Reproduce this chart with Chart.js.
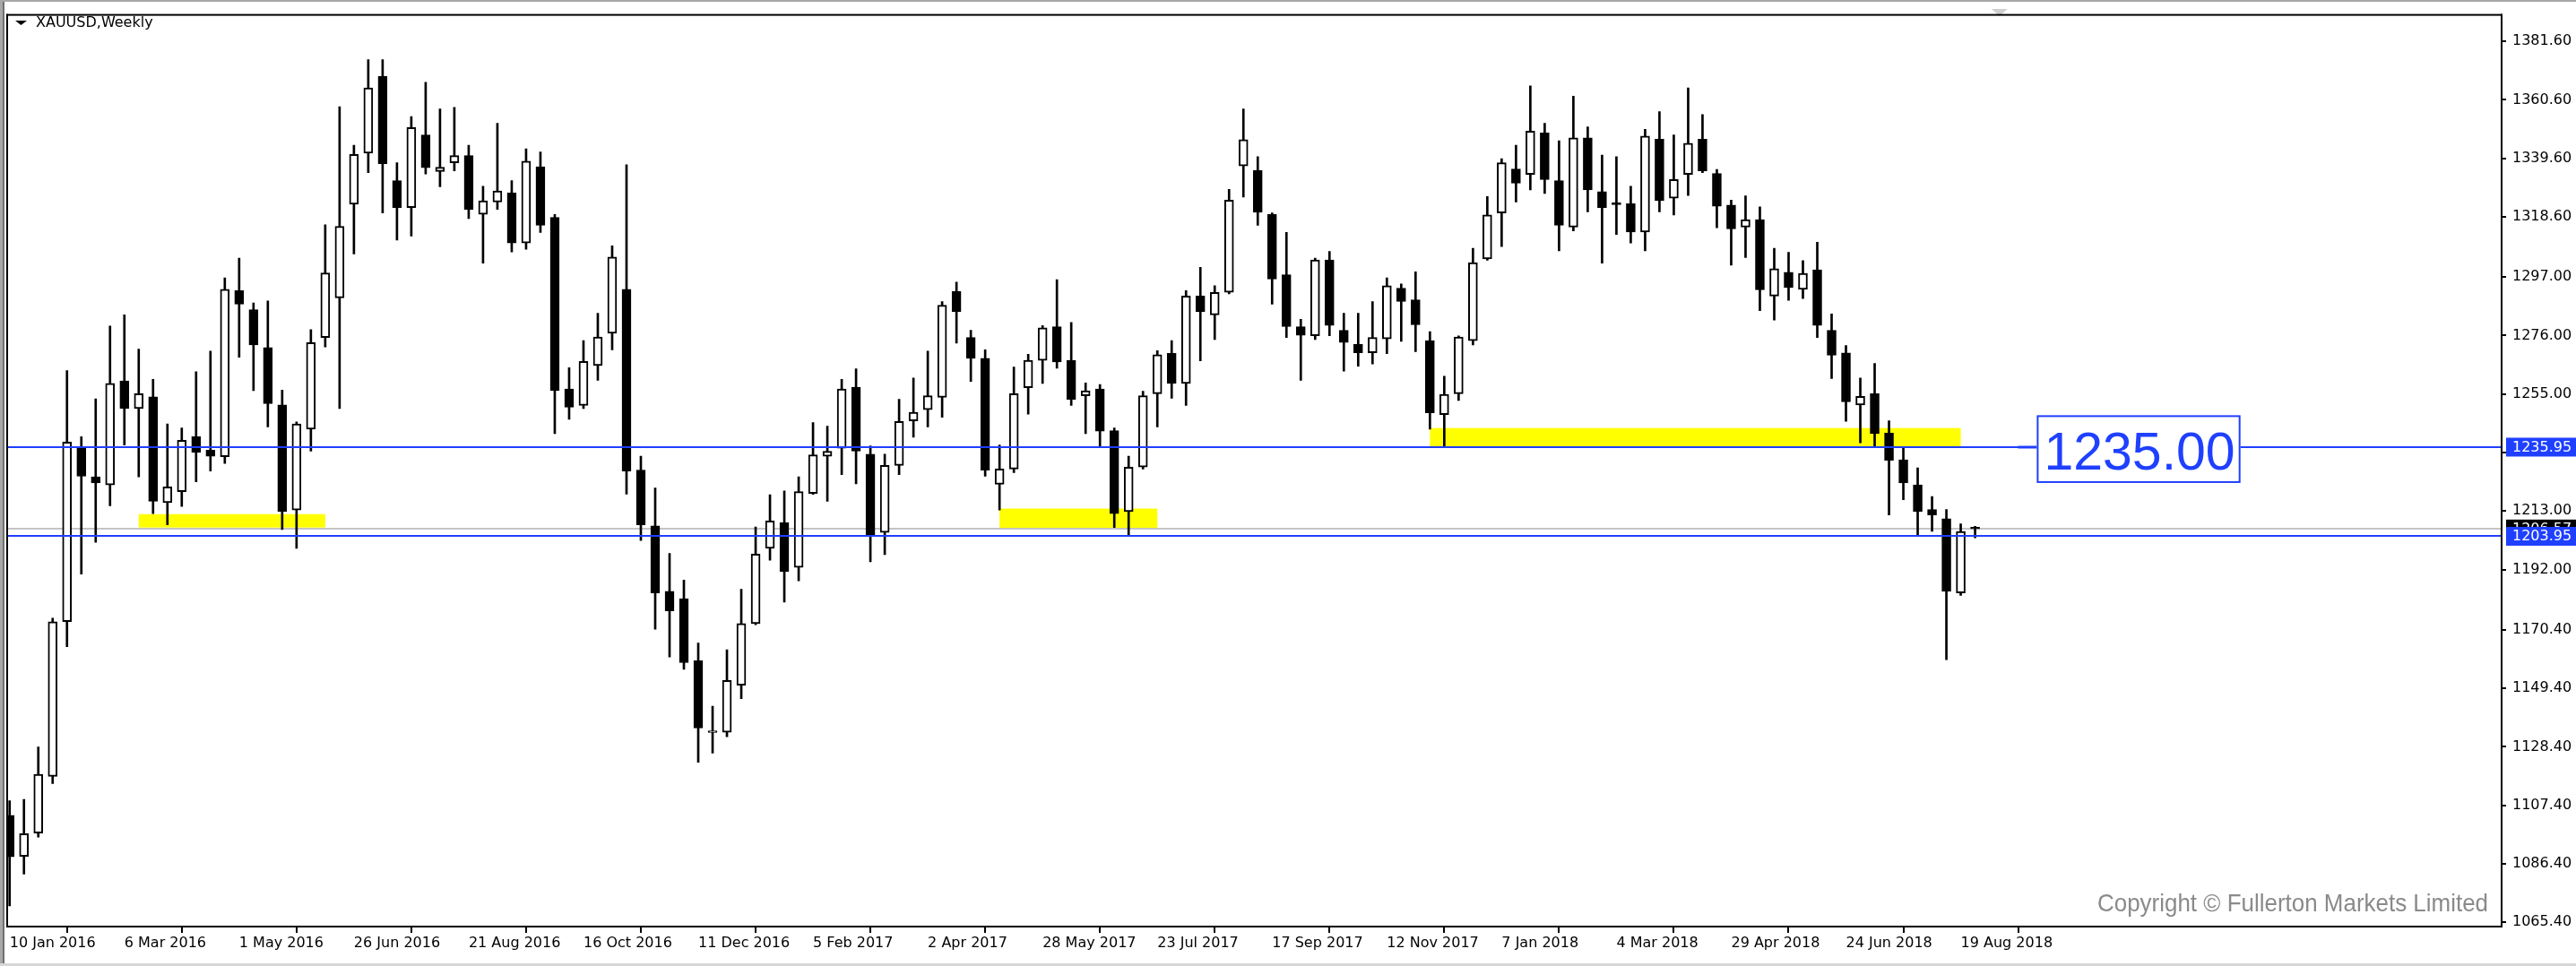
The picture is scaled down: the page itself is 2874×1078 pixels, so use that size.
<!DOCTYPE html>
<html>
<head>
<meta charset="utf-8">
<title>XAUUSD Weekly</title>
<script src="https://cdn.jsdelivr.net/npm/chart.js@4.4.1/dist/chart.umd.min.js"></script>
<style>
  html, body { margin: 0; padding: 0; background: #fff; overflow: hidden; }
  canvas { display: block; }
</style>
</head>
<body>
<canvas id="xauChart" width="2874" height="1078" style="width:2874px;height:1078px"></canvas>
<script>
// ============================================
// DATA (weekly candles, 10 Jan 2016 .. 26 Aug 2018)
// ============================================
const opens = [1103.8,1089.1,1097.4,1117.8,1173.3,1235.8,1225.3,1222.4,1259.7,1249.8,
  1254.0,1216.0,1220.0,1239.7,1234.9,1232.5,1292.1,1285.3,1271.7,1251.1,
  1213.4,1242.4,1275.3,1289.5,1323.1,1341.5,1369.1,1331.6,1321.9,1348.0,
  1334.9,1338.0,1340.6,1319.5,1323.9,1327.2,1309.2,1336.6,1318.4,1256.8,
  1250.9,1265.2,1276.8,1292.6,1227.7,1207.7,1184.2,1181.6,1159.3,1133.5,
  1133.6,1150.5,1172.6,1199.6,1208.8,1192.8,1219.3,1232.7,1235.6,1257.5,
  1233.4,1205.3,1229.4,1245.4,1249.4,1253.8,1291.9,1275.3,1267.8,1222.6,
  1228.1,1257.3,1267.1,1279.2,1267.1,1254.4,1256.8,1241.9,1212.8,1228.8,
  1255.1,1269.6,1258.8,1290.2,1283.4,1291.5,1336.9,1335.3,1319.5,1297.8,
  1279.2,1275.9,1303.1,1277.9,1272.8,1269.8,1274.8,1293.0,1288.8,1274.2,
  1247.6,1255.1,1274.2,1303.5,1320.0,1335.8,1333.8,1348.7,1331.6,1314.9,
  1347.0,1327.7,1323.3,1323.3,1313.2,1346.5,1325.3,1333.8,1346.5,1334.2,
  1322.8,1314.9,1317.6,1290.2,1298.7,1292.6,1299.6,1277.9,1269.8,1251.1,
  1255.1,1241.0,1231.4,1222.4,1213.6,1210.3,1183.6,1207.1];

const highs = [1109.0,1109.5,1128.3,1174.6,1263.4,1239.7,1253.3,1279.4,1283.4,1271.1,
  1260.3,1244.3,1242.8,1263.0,1270.4,1296.7,1303.8,1287.7,1288.4,1256.4,
  1245.0,1278.1,1315.8,1358.1,1344.3,1375.0,1375.0,1338.0,1354.6,1366.9,
  1357.3,1357.9,1344.3,1329.6,1352.2,1331.6,1343.0,1341.9,1319.5,1264.5,
  1274.2,1284.0,1308.2,1337.3,1232.7,1221.3,1197.8,1188.2,1165.6,1143.0,
  1163.2,1184.9,1207.3,1218.9,1220.2,1225.3,1244.8,1243.5,1260.3,1264.1,
  1236.4,1233.4,1253.1,1260.8,1270.4,1288.2,1295.2,1277.9,1270.9,1236.7,
  1264.7,1269.3,1279.6,1296.1,1280.7,1259.0,1258.4,1242.8,1232.7,1256.0,
  1270.6,1274.2,1292.1,1300.5,1293.9,1328.5,1357.3,1340.2,1320.0,1313.0,
  1281.8,1303.8,1306.2,1284.0,1284.0,1288.2,1296.7,1294.5,1298.9,1277.4,
  1261.4,1275.9,1307.3,1325.9,1339.5,1344.3,1365.6,1352.2,1345.9,1361.9,
  1350.9,1340.8,1340.2,1329.6,1350.0,1356.4,1348.0,1364.9,1355.3,1335.6,
  1324.6,1326.1,1322.2,1307.3,1305.9,1302.9,1309.5,1283.8,1272.4,1260.8,
  1266.0,1245.4,1235.8,1228.5,1218.2,1213.6,1208.4,1207.5];

const lows = [1071.3,1082.7,1096.0,1115.2,1164.3,1190.4,1201.8,1214.9,1236.7,1225.3,
  1212.1,1208.1,1214.7,1223.5,1227.4,1230.1,1268.2,1256.2,1243.2,1206.4,
  1199.6,1234.5,1271.9,1249.8,1305.3,1334.5,1320.0,1310.3,1311.7,1334.0,
  1329.4,1335.1,1318.0,1302.0,1321.3,1306.0,1307.0,1313.0,1240.8,1245.9,
  1249.8,1259.9,1270.9,1219.1,1202.4,1170.6,1160.6,1156.2,1122.8,1126.1,
  1132.0,1145.7,1172.2,1195.4,1180.3,1188.0,1219.0,1216.5,1226.1,1222.8,
  1194.8,1197.4,1226.1,1239.5,1243.2,1246.7,1273.3,1259.5,1225.5,1213.4,
  1226.8,1247.8,1258.8,1264.3,1250.9,1240.8,1235.8,1207.1,1204.4,1228.1,
  1243.2,1253.5,1250.9,1266.9,1274.6,1291.0,1325.7,1315.6,1287.3,1275.3,
  1259.9,1274.6,1275.9,1263.2,1265.0,1265.8,1269.5,1273.9,1270.2,1242.4,
  1236.0,1252.7,1272.6,1303.0,1307.9,1323.9,1328.3,1327.0,1306.4,1313.6,
  1320.4,1302.0,1312.3,1309.2,1306.4,1320.4,1319.3,1326.3,1334.5,1314.7,
  1301.3,1304.0,1284.9,1281.6,1288.6,1289.3,1275.3,1260.6,1245.2,1237.5,
  1236.2,1211.6,1217.1,1204.4,1205.7,1159.7,1182.7,1203.4];

const closes = [1088.9,1097.2,1118.5,1173.3,1237.8,1225.5,1223.1,1258.8,1249.8,1255.1,
  1216.5,1221.7,1238.4,1234.0,1232.7,1292.6,1287.3,1272.6,1251.6,1212.8,
  1244.3,1273.5,1298.5,1315.2,1341.0,1364.9,1337.7,1321.9,1350.7,1336.2,
  1336.4,1340.6,1321.3,1324.4,1327.9,1309.2,1338.6,1315.6,1256.2,1250.3,
  1266.7,1275.5,1304.2,1227.4,1208.1,1183.6,1177.2,1158.6,1135.1,1134.0,
  1152.2,1172.6,1197.6,1209.5,1191.3,1220.0,1233.2,1234.5,1256.8,1234.5,
  1204.4,1229.4,1245.2,1248.5,1254.4,1286.9,1284.5,1267.8,1227.7,1228.1,
  1255.1,1267.1,1278.8,1266.5,1253.1,1256.2,1241.7,1212.1,1228.8,1254.4,
  1269.1,1258.8,1290.2,1284.5,1291.5,1324.6,1346.3,1320.2,1296.3,1279.2,
  1276.1,1303.1,1279.6,1273.5,1269.8,1275.3,1293.9,1288.2,1279.9,1248.3,
  1254.9,1275.5,1302.2,1319.3,1338.0,1330.7,1349.4,1332.0,1315.6,1347.0,
  1328.3,1321.9,1323.0,1313.2,1347.6,1324.4,1332.0,1345.0,1335.1,1322.4,
  1314.3,1317.6,1292.4,1300.0,1293.2,1298.3,1279.6,1268.9,1252.2,1254.2,
  1240.8,1231.2,1223.1,1212.8,1211.6,1184.2,1205.7,1206.6];

// x-axis: week index of each date label
const xTickWeeks = [0, 8, 16, 24, 32, 40, 48, 56, 64, 72, 80, 88, 96, 104, 112, 120, 128, 136];
const xTickLabels = ['10 Jan 2016', '6 Mar 2016', '1 May 2016', '26 Jun 2016', '21 Aug 2016',
  '16 Oct 2016', '11 Dec 2016', '5 Feb 2017', '2 Apr 2017', '28 May 2017', '23 Jul 2017',
  '17 Sep 2017', '12 Nov 2017', '7 Jan 2018', '4 Mar 2018', '29 Apr 2018', '24 Jun 2018',
  '19 Aug 2018'];

// y-axis price ticks (as printed by the terminal)
const yTickValues = [1381.60, 1360.60, 1339.60, 1318.60, 1297.00, 1276.00, 1255.00, 1234.00,
  1213.00, 1192.00, 1170.40, 1149.40, 1128.40, 1107.40, 1086.40, 1065.40];

// horizontal levels, current bid, support/resistance zones [fromWeek, toWeek, low, high]
const levelPrices = [1235.95, 1203.95];
const bidPrice = 1206.57;
const zones = [
  [9, 22, 1207.1, 1211.9],
  [69, 80, 1206.9, 1213.9],
  [99, 136, 1236.0, 1242.8]
];
const noteText = '1235.00';
const titleText = 'XAUUSD,Weekly';
const copyrightText = 'Copyright \u00A9 Fullerton Markets Limited';

// ============================================
// CANDLES AS FLOATING BARS
// ============================================
const weeks = opens.map((_, i) => i);
const wickData = weeks.map(i => ({ x: i, y: [lows[i], highs[i]] }));
const bodyData = weeks.map(i => ({ x: i, y: [opens[i], closes[i]] }));
const bodyFill = weeks.map(i => closes[i] >= opens[i] ? '#ffffff' : '#000000');

const BLUE = '#1f40ff';
const AXIS_FONT = { family: '"DejaVu Sans", sans-serif', size: 16 };

// overlay: frame, zones, levels, labels, note box
const mt4Overlay = {
    id: 'mt4Overlay',
    beforeDraw(chart) {
        const c = chart.ctx;
        c.save();
        c.fillStyle = '#ffffff';
        c.fillRect(0, 0, chart.width, chart.height);
        c.fillStyle = '#a8a8a8';
        c.fillRect(0, 0, chart.width, 2);
        c.fillRect(0, 0, 3, chart.height);
        c.fillStyle = '#707070';
        c.fillRect(3, 2, 2, chart.height - 2);
        c.fillStyle = '#d6d6d6';
        c.fillRect(0, chart.height - 3, chart.width, 3);
        c.restore();
    },
    beforeDatasetsDraw(chart) {
        const { ctx: c, chartArea: a, scales: { x, y } } = chart;
        c.save();
        c.beginPath();
        c.rect(a.left, a.top, a.right - a.left, a.bottom - a.top);
        c.clip();
        c.fillStyle = '#ffff00';
        zones.forEach(([from, to, lo, hi]) => {
            const x0 = x.getPixelForValue(from), x1 = x.getPixelForValue(to);
            const y0 = y.getPixelForValue(hi), y1 = y.getPixelForValue(lo);
            c.fillRect(x0, y0, x1 - x0, y1 - y0);
        });
        // bid line
        c.fillStyle = '#c4c4c4';
        c.fillRect(a.left, Math.round(y.getPixelForValue(bidPrice)) - 1, a.right - a.left, 2);
        c.restore();
    },
    afterDatasetsDraw(chart) {
        const { ctx: c, chartArea: a, scales: { x, y } } = chart;
        c.save();
        // blue levels
        c.fillStyle = BLUE;
        levelPrices.forEach(p => {
            const py = Math.round(y.getPixelForValue(p));
            c.fillRect(a.left, py - 1, a.right - a.left, 2);
        });

        // note box "1235.00"
        const box = { from: 141.3, to: 155.5, low: 1223.1, high: 1247.4 };
        const bx0 = x.getPixelForValue(box.from), bx1 = x.getPixelForValue(box.to);
        const by0 = y.getPixelForValue(box.high), by1 = y.getPixelForValue(box.low);
        const ly = Math.round(y.getPixelForValue(levelPrices[0]));
        c.fillRect(x.getPixelForValue(140.0), ly - 1.5, bx0 - x.getPixelForValue(140.0), 3);
        c.fillStyle = '#ffffff';
        c.fillRect(bx0, by0, bx1 - bx0, by1 - by0);
        c.strokeStyle = BLUE;
        c.lineWidth = 2;
        c.strokeRect(bx0 + 1, by0 + 1, bx1 - bx0 - 2, by1 - by0 - 2);
        c.fillStyle = BLUE;
        c.font = '60px "Liberation Sans", Arial, sans-serif';
        c.textAlign = 'left';
        c.textBaseline = 'alphabetic';
        c.fillText(noteText, bx0 + 8, by1 - 14.5, bx1 - bx0 - 14);

        // chart shift marker
        const sx = x.getPixelForValue(138.7);
        c.fillStyle = '#cfcfcf';
        c.beginPath();
        c.moveTo(sx - 9, 10);
        c.lineTo(sx + 9, 10);
        c.lineTo(sx, 18);
        c.closePath();
        c.fill();

        // frame of chart window
        c.fillStyle = '#000000';
        c.fillRect(a.left - 1, a.top - 1, a.right - a.left + 2, 2);
        c.fillRect(a.left - 1, a.bottom, a.right - a.left + 2, 2);
        c.fillRect(a.left - 1, a.top - 1, 2, a.bottom - a.top + 3);
        c.fillRect(a.right - 1, a.top - 1, 2, a.bottom - a.top + 3);

        // title with menu triangle
        c.beginPath();
        c.moveTo(17, 23);
        c.lineTo(30, 23);
        c.lineTo(23.5, 28);
        c.closePath();
        c.fill();
        c.font = '16px "DejaVu Sans", sans-serif';
        c.textBaseline = 'alphabetic';
        c.fillText(titleText, 40, 30);

        // copyright
        c.fillStyle = '#8a8a8a';
        c.font = '28px "Liberation Sans", Arial, sans-serif';
        c.textAlign = 'right';
        c.fillText(copyrightText, a.right - 15, 1016.5, 436);
        c.restore();
    },
    afterDraw(chart) {
        const { ctx: c, chartArea: a, scales: { y } } = chart;
        c.save();
        c.font = '16px "DejaVu Sans", sans-serif';
        c.textAlign = 'left';
        c.textBaseline = 'middle';
        const tag = (price, bg) => {
            const py = y.getPixelForValue(price);
            c.fillStyle = bg;
            c.fillRect(a.right + 5, py - 10.5, chart.width - a.right - 5, 21);
            c.fillStyle = '#ffffff';
            c.fillText(price.toFixed(2), a.right + 12, py + 0.5);
        };
        tag(bidPrice, '#000000');
        levelPrices.forEach(p => tag(p, BLUE));
        c.restore();
    }
};

new Chart(document.getElementById('xauChart'), {
    type: 'bar',
    data: {
        datasets: [{
            label: 'Wick',
            data: wickData,
            backgroundColor: '#000000',
            borderWidth: 0,
            barThickness: 2,
            grouped: false,
            order: 2
        }, {
            label: 'Body',
            data: bodyData,
            backgroundColor: bodyFill,
            borderColor: '#000000',
            borderWidth: 2,
            borderSkipped: false,
            barThickness: 10,
            minBarLength: 2,
            grouped: false,
            order: 1
        }]
    },
    options: {
        responsive: false,
        animation: false,
        devicePixelRatio: 1,
        layout: { padding: { left: 8, top: 8, right: 0, bottom: 0 } },
        plugins: {
            legend: { display: false },
            tooltip: { enabled: false }
        },
        scales: {
            x: {
                type: 'linear',
                min: -0.17,
                max: 173.7,
                offset: false,
                border: { display: false },
                grid: { drawOnChartArea: false, drawTicks: true, tickLength: 8, color: '#000000', lineWidth: 2 },
                afterBuildTicks: scale => { scale.ticks = xTickWeeks.map(v => ({ value: v })); },
                afterFit: scale => { scale.height = 45; },
                ticks: {
                    autoSkip: false,
                    maxRotation: 0,
                    minRotation: 0,
                    align: 'start',
                    padding: 2,
                    color: '#000000',
                    font: AXIS_FONT,
                    callback: (value, index) => xTickLabels[index]
                }
            },
            y: {
                type: 'linear',
                position: 'right',
                min: 1064.19,
                max: 1391.10,
                border: { display: false },
                grid: { drawOnChartArea: false, drawTicks: true, tickLength: 5, color: '#000000', lineWidth: 2 },
                afterBuildTicks: scale => { scale.ticks = yTickValues.map(v => ({ value: v })); },
                afterFit: scale => { scale.width = 83; },
                ticks: {
                    padding: 7,
                    color: '#000000',
                    font: AXIS_FONT,
                    callback: value => value.toFixed(2)
                }
            }
        }
    },
    plugins: [mt4Overlay]
});
</script>
</body>
</html>
